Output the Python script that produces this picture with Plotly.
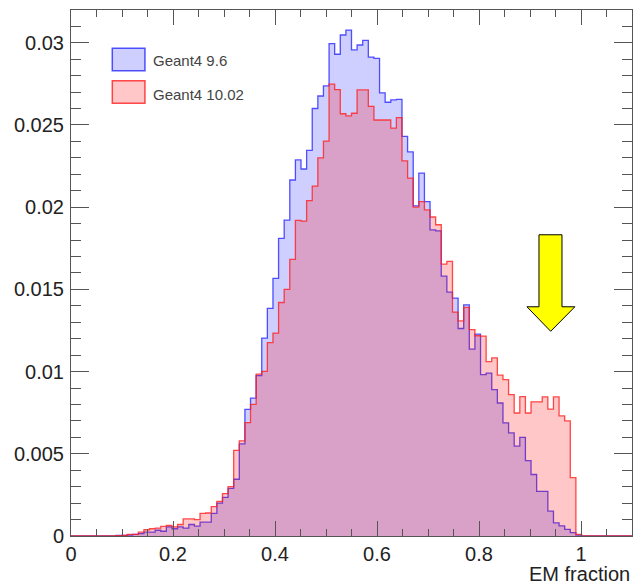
import numpy as np
import plotly.graph_objects as go

# ---- data: 100 bins from 0 to 1.1 ----
x_min, x_max, n_bins = 0.0, 1.1, 100

g4_96 = [0, 0, 0, 0, 0, 0, 0, 0, 0.00003, 0.00004,
         0.00005, 0.00010, 0.00015, 0.00023, 0.00023, 0.00035, 0.00029, 0.00056, 0.00044, 0.00056,
         0.00048, 0.00070, 0.00060, 0.00084, 0.00084, 0.00137, 0.00200, 0.00235, 0.00290, 0.00345,
         0.00560, 0.00770, 0.00838, 0.00975, 0.01204, 0.01384, 0.01567, 0.01810, 0.01921, 0.02165,
         0.02287, 0.02232, 0.02345, 0.02600, 0.02676, 0.02737, 0.02994, 0.02930, 0.03047, 0.03077,
         0.02956, 0.02986, 0.03014, 0.02913, 0.02905, 0.02695, 0.02638, 0.02652, 0.02656, 0.02431,
         0.02336, 0.02008, 0.02207, 0.02034, 0.01862, 0.01856, 0.01580, 0.01483, 0.01447, 0.01262,
         0.01406, 0.01136, 0.01228, 0.00981, 0.00991, 0.00890, 0.00809, 0.00688, 0.00627, 0.00546,
         0.00600, 0.00458, 0.00374, 0.00272, 0.00272, 0.00151, 0.00080, 0.00062, 0.00040, 0.00020,
         0.00005, 0, 0, 0, 0, 0, 0, 0, 0, 0]

g4_1002 = [0, 0, 0, 0, 0, 0, 0, 0, 0.00002, 0.00003,
           0.00010, 0.00010, 0.00023, 0.00038, 0.00044, 0.00048, 0.00058, 0.00064, 0.00056, 0.00070,
           0.00104, 0.00104, 0.00100, 0.00137, 0.00140, 0.00179, 0.00210, 0.00258, 0.00300, 0.00521,
           0.00579, 0.00690, 0.00800, 0.00985, 0.01001, 0.01176, 0.01234, 0.01420, 0.01500, 0.01682,
           0.01920, 0.01915, 0.02040, 0.02128, 0.02300, 0.02402, 0.02748, 0.02715, 0.02568, 0.02555,
           0.02571, 0.02713, 0.02713, 0.02613, 0.02530, 0.02530, 0.02530, 0.02480, 0.02545, 0.02282,
           0.02176, 0.02000, 0.02034, 0.01983, 0.01940, 0.01893, 0.01653, 0.01670, 0.01362, 0.01308,
           0.01390, 0.01255, 0.01218, 0.01216, 0.01060, 0.01083, 0.00978, 0.00951, 0.00860, 0.00748,
           0.00848, 0.00748, 0.00816, 0.00816, 0.00846, 0.00772, 0.00846, 0.00730, 0.00700, 0.00355,
           0.00010, 0, 0, 0, 0, 0, 0, 0, 0, 0]

series_names = ["Geant4 9.6", "Geant4 10.02"]
x_tick_vals = [0, 0.2, 0.4, 0.6, 0.8, 1.0]
x_tick_text = ["0", "0.2", "0.4", "0.6", "0.8", "1"]
y_tick_vals = [0, 0.005, 0.01, 0.015, 0.02, 0.025, 0.03]
y_tick_text = ["0", "0.005", "0.01", "0.015", "0.02", "0.025", "0.03"]
x_title = "EM fraction"

edges = np.linspace(x_min, x_max, n_bins + 1)

def step_xy(vals):
    xs = list(edges)
    ys = list(vals) + [vals[-1]]
    return xs, ys

blue_line = "rgba(40,40,255,0.8)"
blue_fill = "rgba(0,0,255,0.19)"
red_line = "rgba(255,30,30,0.8)"
red_fill = "rgba(255,0,0,0.22)"

fig = go.Figure()
for vals, lc, fc, name in [(g4_96, blue_line, blue_fill, series_names[0]),
                           (g4_1002, red_line, red_fill, series_names[1])]:
    xs, ys = step_xy(vals)
    fig.add_trace(go.Scatter(x=xs, y=ys, mode="lines", line=dict(color=lc, width=1.3, shape="hv"),
                             fill="tozeroy", fillcolor=fc, name=name, showlegend=False,
                             hoverinfo="skip"))

font_fam = "Liberation Sans, Arial, Helvetica, sans-serif"
axis_col = "#555555"

fig.update_layout(
    width=636, height=587,
    margin=dict(l=71, r=4, t=10, b=51),
    paper_bgcolor="white", plot_bgcolor="white",
    font=dict(family=font_fam, size=20, color="#222222"),
    xaxis=dict(range=[x_min, x_max], showgrid=False, zeroline=False,
               showline=True, linecolor=axis_col, linewidth=1, mirror="ticks",
               ticks="inside", ticklen=15, tickcolor=axis_col, tickwidth=1,
               tickvals=x_tick_vals, ticktext=x_tick_text,
               minor=dict(ticks="inside", ticklen=7, dtick=0.05, tick0=0, tickcolor=axis_col, showgrid=False),
               tickfont=dict(size=20, color="#222222")),
    yaxis=dict(range=[0, 0.03199], showgrid=False, zeroline=False,
               showline=True, linecolor=axis_col, linewidth=1, mirror="ticks",
               ticks="inside", ticklen=18, tickcolor=axis_col, tickwidth=1,
               tickvals=y_tick_vals, ticktext=y_tick_text,
               minor=dict(ticks="inside", ticklen=10, dtick=0.001, tick0=0, tickcolor=axis_col, showgrid=False),
               tickfont=dict(size=20, color="#222222"), ticklabelstandoff=2),
)

# x-axis title, right aligned below the axis (ROOT style)
fig.add_annotation(text=x_title, xref="paper", yref="paper", x=1.0, y=-0.073,
                   xanchor="right", yanchor="middle", showarrow=False,
                   font=dict(size=20, color="#222222", family=font_fam))

# legend drawn ROOT-like
leg = [(series_names[0], blue_line, blue_fill, 0.8847, 0.9273, 0.9031),
       (series_names[1], red_line, red_fill, 0.8228, 0.8657, 0.8399)]
for name, lc, fc, y0, y1, yt in leg:
    fig.add_shape(type="rect", xref="paper", yref="paper", x0=0.0736, x1=0.1318, y0=y0, y1=y1,
                  line=dict(color=lc, width=1.5), fillcolor=fc)
    fig.add_annotation(text=name, xref="paper", yref="paper", x=0.142, y=yt,
                       xanchor="left", yanchor="middle", showarrow=False,
                       font=dict(size=15, color="#444444", family=font_fam))

# yellow arrow pointing at the high-EM-fraction excess
ax0, ax1, axl, axr, axt = 0.9176, 0.9627, 0.894, 0.988, 0.9405
ay_top, ay_neck, ay_tip = 0.01832, 0.01394, 0.01245
arrow_path = (f"M {ax0} {ay_top} L {ax1} {ay_top} L {ax1} {ay_neck} L {axr} {ay_neck} "
              f"L {axt} {ay_tip} L {axl} {ay_neck} L {ax0} {ay_neck} Z")
fig.add_shape(type="path", xref="x", yref="y", path=arrow_path,
              fillcolor="#FFFF00", line=dict(color="black", width=1))

fig.write_html("out.html")
